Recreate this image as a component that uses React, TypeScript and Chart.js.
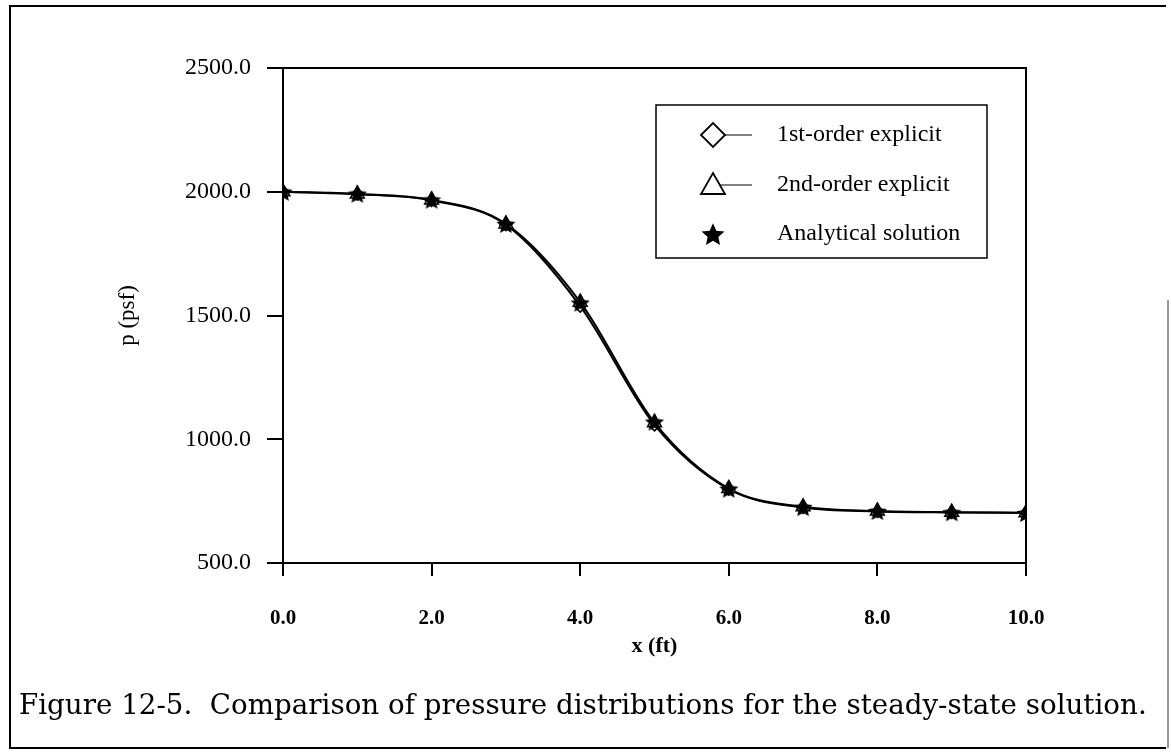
import { useEffect, useRef } from "react";
import { Chart, registerables } from "chart.js";

Chart.register(...registerables);

// Grid positions along the duct (ft)
const xPositions = [0, 1, 2, 3, 4, 5, 6, 7, 8, 9, 10];
// Steady-state pressure (psf) for each scheme
const firstOrderExplicit = [2000, 1990, 1965, 1867, 1538, 1058, 798, 724, 708, 704, 702];
const secondOrderExplicit = [2000, 1991, 1967, 1870, 1554, 1067, 801, 727, 710, 705, 703];
const analyticalSolution = [2000, 1992, 1968, 1870, 1552, 1071, 800, 726, 710, 705, 702];

const xTickValues = [0, 2, 4, 6, 8, 10];
const yTickValues = [500, 1000, 1500, 2000, 2500];
const seriesLabels = ["1st-order explicit", "2nd-order explicit", "Analytical solution"];
const xAxisTitle = "x (ft)";
const yAxisTitle = "p (psf)";
const captionText = "Figure 12-5.  Comparison of pressure distributions for the steady-state solution.";

const SERIF = "'Liberation Serif', 'Times New Roman', serif";
const CAPTION_FONT = "'DejaVu Serif', 'Liberation Serif', serif";

function makeStar(size: number): HTMLCanvasElement {
  const c = document.createElement("canvas");
  c.width = size;
  c.height = size;
  const ctx = c.getContext("2d")!;
  const cx = size / 2;
  const cy = size / 2 + size * 0.05;
  const outer = size / 2;
  const inner = outer * 0.47;
  ctx.beginPath();
  for (let i = 0; i < 10; i++) {
    const a = -Math.PI / 2 + (i * Math.PI) / 5;
    const r = i % 2 === 0 ? outer : inner;
    ctx.lineTo(cx + r * Math.cos(a), cy + r * Math.sin(a));
  }
  ctx.closePath();
  ctx.fillStyle = "#000";
  ctx.fill();
  return c;
}

const toPoints = (ys: number[]) => xPositions.map((x, i) => ({ x, y: ys[i] }));

export default function App() {
  const canvasRef = useRef<HTMLCanvasElement | null>(null);

  useEffect(() => {
    const canvas = canvasRef.current;
    if (!canvas) return;
    const star = makeStar(20);
    const legendStar = makeStar(24);

    // Frame, plot box, legend, axis titles and caption
    const decorations = {
      id: "decorations",
      afterDraw(chart: any) {
        const { ctx, chartArea } = chart;
        ctx.save();
        ctx.fillStyle = "#000";
        ctx.strokeStyle = "#000";

        // outer figure frame
        ctx.lineWidth = 2;
        ctx.beginPath();
        ctx.moveTo(1166, 6);
        ctx.lineTo(10, 6);
        ctx.lineTo(10, 748);
        ctx.lineTo(1166, 748);
        ctx.stroke();
        ctx.strokeStyle = "#777";
        ctx.lineWidth = 1.5;
        ctx.beginPath();
        ctx.moveTo(1168, 300);
        ctx.lineTo(1168, 748);
        ctx.stroke();

        // top and right edges of the plot box
        ctx.strokeStyle = "#000";
        ctx.lineWidth = 2;
        ctx.beginPath();
        ctx.moveTo(chartArea.left, chartArea.top);
        ctx.lineTo(chartArea.right, chartArea.top);
        ctx.lineTo(chartArea.right, chartArea.bottom);
        ctx.stroke();

        // legend
        const lx = 656, ly = 105, lw = 331, lh = 153;
        ctx.lineWidth = 1.5;
        ctx.strokeRect(lx, ly, lw, lh);
        const rows = [135, 185, 234];
        ctx.font = `24px ${SERIF}`;
        ctx.textBaseline = "middle";
        ctx.textAlign = "left";
        rows.forEach((ry, i) => {
          const mx = 713;
          if (i < 2) {
            ctx.lineWidth = 1;
            ctx.beginPath();
            ctx.moveTo(mx, ry);
            ctx.lineTo(752, ry);
            ctx.stroke();
          }
          ctx.lineWidth = 1.8;
          if (i === 0) {
            ctx.beginPath();
            ctx.moveTo(mx - 12, ry);
            ctx.lineTo(mx, ry - 12);
            ctx.lineTo(mx + 12, ry);
            ctx.lineTo(mx, ry + 12);
            ctx.closePath();
            ctx.fillStyle = "#fff";
            ctx.fill();
            ctx.stroke();
          } else if (i === 1) {
            ctx.beginPath();
            ctx.moveTo(mx, ry - 12);
            ctx.lineTo(mx + 12, ry + 9);
            ctx.lineTo(mx - 12, ry + 9);
            ctx.closePath();
            ctx.fillStyle = "#fff";
            ctx.fill();
            ctx.stroke();
          } else {
            ctx.drawImage(legendStar, mx - 12, ry - 12);
          }
          ctx.fillStyle = "#000";
          ctx.fillText(seriesLabels[i], 777, ry);
        });

        // axis titles
        ctx.font = `bold 22px ${SERIF}`;
        ctx.textAlign = "center";
        ctx.fillText(xAxisTitle, (chartArea.left + chartArea.right) / 2, 646);
        ctx.save();
        ctx.translate(128, (chartArea.top + chartArea.bottom) / 2);
        ctx.rotate(-Math.PI / 2);
        ctx.font = `23px ${SERIF}`;
        ctx.fillText(yAxisTitle, 0, 0);
        ctx.restore();

        // caption, sized to run across the frame
        ctx.font = `27px ${CAPTION_FONT}`;
        const w = ctx.measureText(captionText).width;
        const size = (27 * 1128) / w;
        ctx.font = `${size.toFixed(2)}px ${CAPTION_FONT}`;
        ctx.textAlign = "left";
        ctx.textBaseline = "alphabetic";
        ctx.fillText(captionText, 19, 714);
        ctx.restore();
      },
    };

    const chart = new Chart(canvas, {
      type: "scatter",
      data: {
        datasets: [
          {
            label: seriesLabels[2],
            data: toPoints(analyticalSolution),
            showLine: false,
            pointStyle: star as any,
            pointRadius: 9,
            order: 0,
          },
          {
            label: seriesLabels[1],
            data: toPoints(secondOrderExplicit),
            showLine: true,
            borderColor: "#000",
            borderWidth: 2,
            cubicInterpolationMode: "monotone",
            pointStyle: "triangle",
            pointRadius: 8,
            pointBackgroundColor: "#fff",
            pointBorderColor: "#000",
            pointBorderWidth: 1.5,
            order: 1,
          },
          {
            label: seriesLabels[0],
            data: toPoints(firstOrderExplicit),
            showLine: true,
            borderColor: "#000",
            borderWidth: 2,
            cubicInterpolationMode: "monotone",
            pointStyle: "rectRot",
            pointRadius: 6,
            pointBackgroundColor: "#fff",
            pointBorderColor: "#000",
            pointBorderWidth: 1.5,
            order: 2,
          },
        ],
      },
      options: {
        responsive: false,
        animation: false,
        events: [],
        layout: { padding: { left: 0, right: 145, top: 68, bottom: 0 } },
        plugins: { legend: { display: false }, tooltip: { enabled: false } },
        scales: {
          x: {
            type: "linear",
            min: 0,
            max: 10,
            afterBuildTicks: (scale: any) => {
              scale.ticks = xTickValues.map((v) => ({ value: v }));
            },
            afterFit: (scale: any) => {
              scale.height = 189;
            },
            ticks: {
              color: "#000",
              font: { family: SERIF, size: 21, weight: "bold" },
              padding: 30,
              maxRotation: 0,
              callback: (v: any) => Number(v).toFixed(1),
            },
            grid: {
              drawOnChartArea: false,
              drawTicks: true,
              tickLength: 13,
              lineWidth: 2,
              color: "#000",
            },
            border: { display: true, color: "#000", width: 2 },
          },
          y: {
            type: "linear",
            min: 500,
            max: 2500,
            afterBuildTicks: (scale: any) => {
              scale.ticks = yTickValues.map((v) => ({ value: v }));
            },
            afterFit: (scale: any) => {
              scale.width = 283;
            },
            ticks: {
              color: "#000",
              font: { family: SERIF, size: 24 },
              padding: 16,
              callback: (v: any) => Number(v).toFixed(1),
            },
            grid: {
              drawOnChartArea: false,
              drawTicks: true,
              tickLength: 16,
              lineWidth: 2,
              color: "#000",
            },
            border: { display: true, color: "#000", width: 2 },
          },
        },
      },
      plugins: [decorations],
    } as any);

    return () => chart.destroy();
  }, []);

  return (
    <div style={{ position: "absolute", left: 0, top: 0, width: 1171, height: 752, background: "#fff" }}>
      <canvas ref={canvasRef} width={1171} height={752} style={{ width: 1171, height: 752, display: "block" }} />
    </div>
  );
}
